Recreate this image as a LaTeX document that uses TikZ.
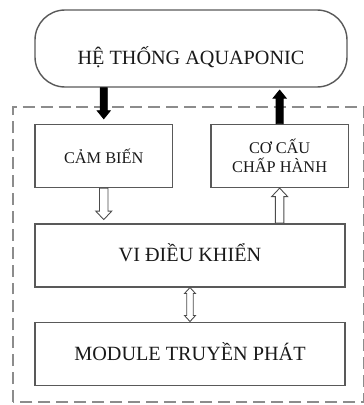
\documentclass[tikz,border=0pt]{standalone}
\usepackage{fontspec}
\setmainfont{Liberation Serif}
\usepackage{tikz}
\usetikzlibrary{calc,positioning}
\tikzset{
	arr_shaft/.store in=\arrshaft, arr_head/.store in=\arrhead,
	arr_len/.store in=\arrlen,
	box_sys/.style = {rectangle, rounded corners=0.6cm, draw=black!65,
		line width=0.8pt, text=black!90, minimum width=6.24cm,
		minimum height=1.54cm, font=\fontsize{11.5}{13}\selectfont,
		text height=0.7cm, text depth=0.07cm},% bloc systeme, texte un peu bas
	box_unit/.style = {rectangle, draw=black!65, line width=0.8pt,
		text=black!90, align=center, minimum width=2.75cm,
		minimum height=1.26cm, font=\fontsize{9.3}{11}\selectfont},% petit bloc
	box_wide/.style = {box_unit, minimum width=6.2cm,
		font=\fontsize{11.5}{13}\selectfont, text height=7.6pt,
		text depth=0pt},% bloc large
	cluster/.style = {draw=black!45, line width=1.1pt,
		dash pattern=on 6.8pt off 3.4pt},% cadre pointille
	% fleche pleine (polygone entre deux points)
	flowarrow/.style = {arr_shaft=#1, arr_head=0.13cm, arr_len=0.16cm,
		draw=black!70, line width=0.5pt, to path={
		($(\tikztostart)!\arrshaft!90:(\tikztotarget)$)
		-- ($($(\tikztotarget)!\arrlen!(\tikztostart)$)!\arrshaft!90:(\tikztotarget)$)
		-- ($($(\tikztotarget)!\arrlen!(\tikztostart)$)!\arrhead!90:(\tikztotarget)$)
		-- (\tikztotarget)
		-- ($($(\tikztotarget)!\arrlen!(\tikztostart)$)!\arrhead!-90:(\tikztotarget)$)
		-- ($($(\tikztotarget)!\arrlen!(\tikztostart)$)!\arrshaft!-90:(\tikztotarget)$)
		-- ($(\tikztostart)!\arrshaft!-90:(\tikztotarget)$)
		-- cycle}},
	flowarrow/.default = 0.07cm,
	arr_black/.style = {flowarrow, fill=black, draw=black},
	arr_open/.style = {flowarrow=0.085cm, arr_head=0.16cm, arr_len=0.17cm,
		fill=white},
	% fleche double creuse
	arr_both/.style = {arr_shaft=0.065cm, arr_head=0.11cm, arr_len=0.12cm,
		draw=black!70, line width=0.5pt, fill=white, to path={
		(\tikztostart)
		-- ($($(\tikztostart)!\arrlen!(\tikztotarget)$)!\arrhead!90:(\tikztotarget)$)
		-- ($($(\tikztostart)!\arrlen!(\tikztotarget)$)!\arrshaft!90:(\tikztotarget)$)
		-- ($($(\tikztotarget)!\arrlen!(\tikztostart)$)!\arrshaft!90:(\tikztotarget)$)
		-- ($($(\tikztotarget)!\arrlen!(\tikztostart)$)!\arrhead!90:(\tikztotarget)$)
		-- (\tikztotarget)
		-- ($($(\tikztotarget)!\arrlen!(\tikztostart)$)!\arrhead!-90:(\tikztotarget)$)
		-- ($($(\tikztotarget)!\arrlen!(\tikztostart)$)!\arrshaft!-90:(\tikztotarget)$)
		-- ($($(\tikztostart)!\arrlen!(\tikztotarget)$)!\arrshaft!-90:(\tikztotarget)$)
		-- ($($(\tikztostart)!\arrlen!(\tikztotarget)$)!\arrhead!-90:(\tikztotarget)$)
		-- cycle}}
}

\begin{document}
\begin{tikzpicture}
\useasboundingbox (0,0) rectangle (7.26,8.1);

\draw[cluster] (0.26,0.06) rectangle (7.28,5.96);

\node [box_sys] (sys) at (3.82,7.13) {HỆ THỐNG AQUAPONIC};
\node [box_unit, below right = 0.72cm and 0cm of sys.south west] (sensor) {CẢM BIẾN};
\node [box_unit, right = 0.74cm of sensor] (act) {CƠ CẤU\\CHẤP HÀNH};
\node [box_wide, below right = 0.7cm and 0cm of sensor.south west] (vi) {VI ĐIỀU KHIỂN};
\node [box_wide, below = 0.68cm of vi] (module) {MODULE TRUYỀN PHÁT};

\coordinate (in_top) at (sys.south -| sensor.north);
\coordinate (in_bot) at ($(sensor.north)+(0,0.1)$);
\coordinate (out_top) at ($(sys.south -| act.north)+(0,-0.05)$);
\coordinate (vi_in) at ($(vi.north -| sensor.south)+(0,0.07)$);
\coordinate (vi_out) at (vi.north -| act.south);

\draw[arr_black] (in_top) to (in_bot);
\draw[arr_black] (act.north) to (out_top);
\draw[arr_open] (sensor.south) to (vi_in);
\draw[arr_open] (vi_out) to (act.south);
\draw[arr_both] (vi.south) to (module.north);
\end{tikzpicture}
\end{document}
